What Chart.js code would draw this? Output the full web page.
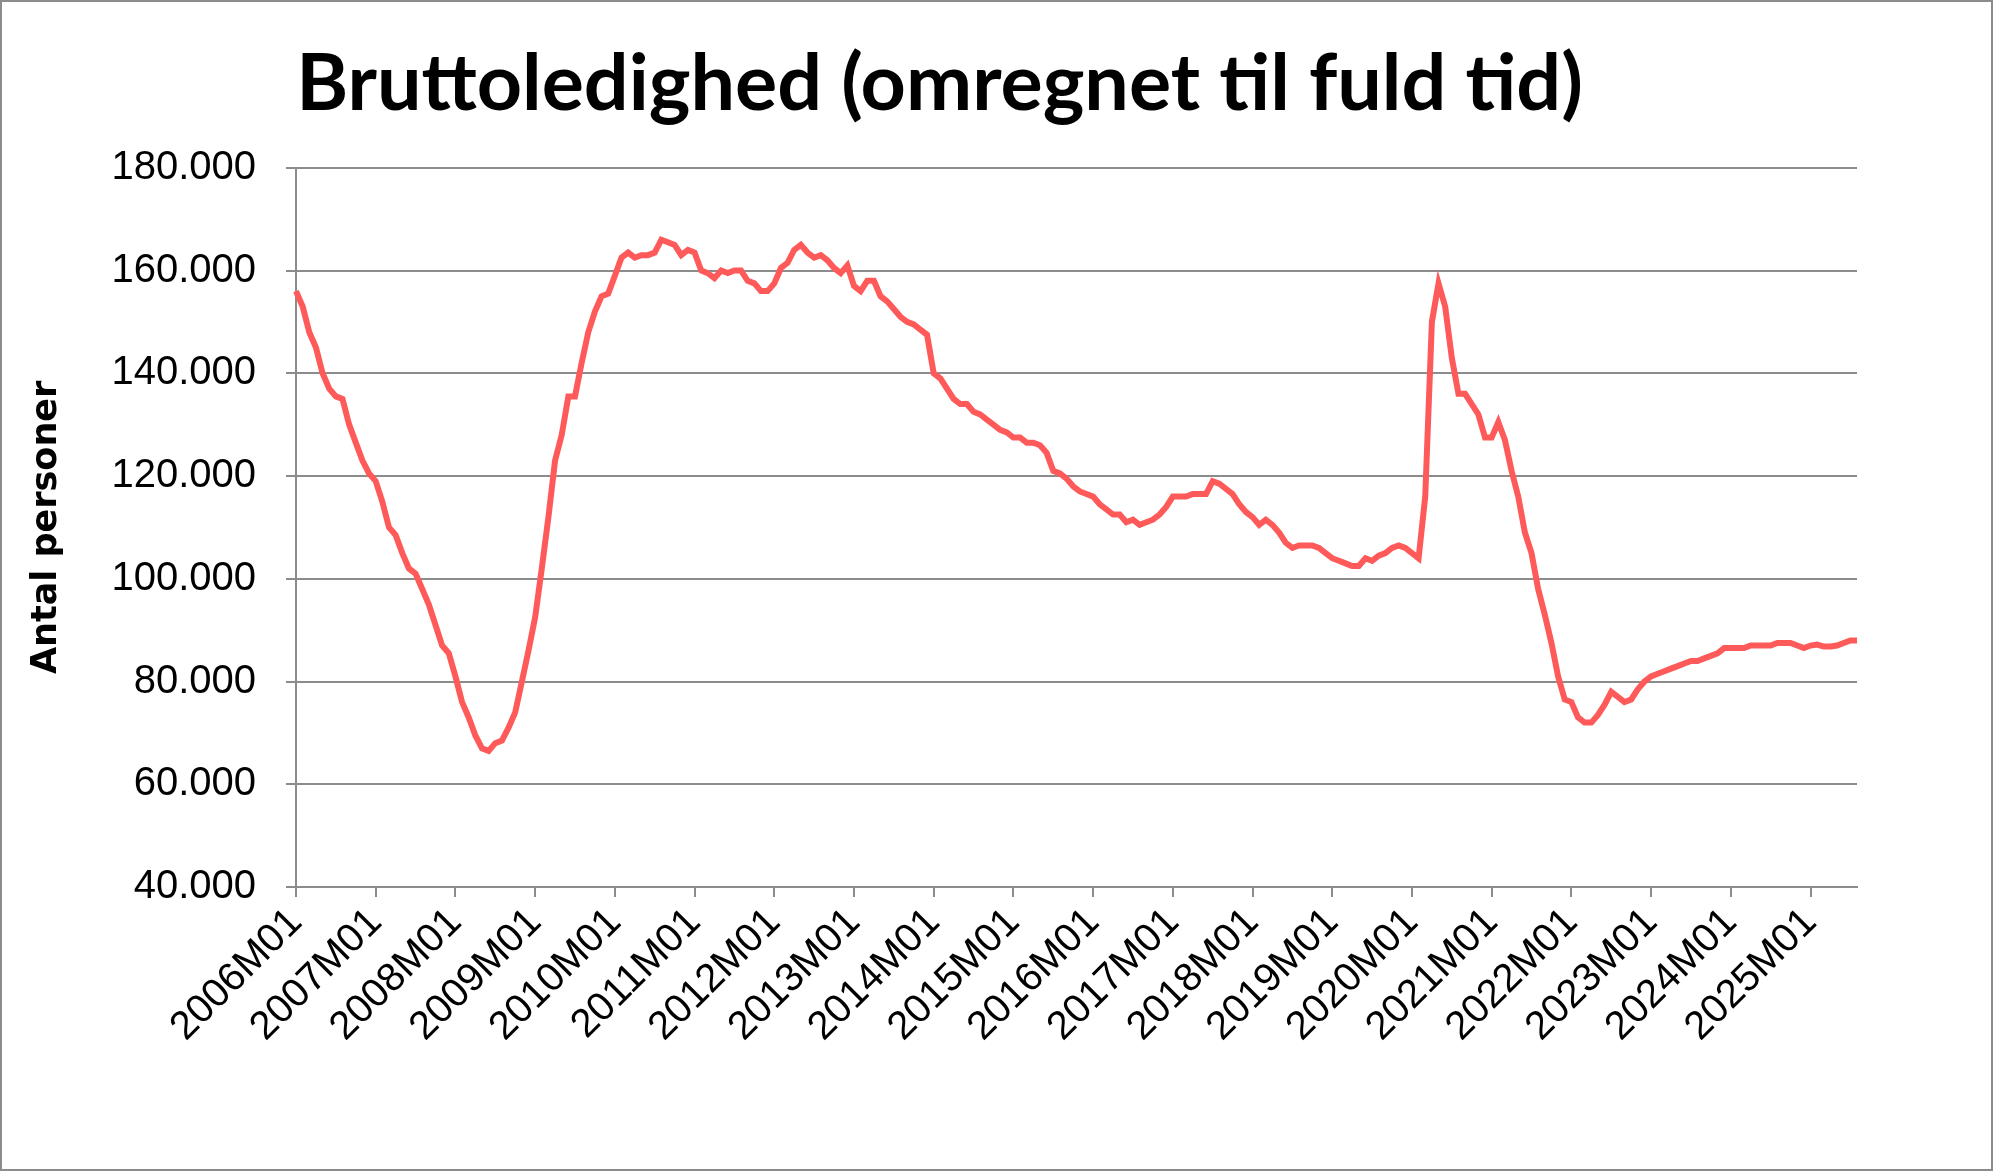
<!DOCTYPE html>
<html><head><meta charset="utf-8">
<script src="https://cdn.jsdelivr.net/npm/chart.js@4"></script>
<style>html,body{margin:0;padding:0;background:#fff}#w{width:1993px;height:1171px;box-sizing:border-box;border:2px solid #8c8c8c}</style>
</head><body><div id="w"><canvas id="c"></canvas></div>
<script>
const years = ['2006','2007','2008','2009','2010','2011','2012','2013','2014','2015','2016','2017','2018','2019','2020','2021','2022','2023','2024','2025'];
const v2006 = [156,153,148,145,140,137,135.5,135,130,126.5,123,120.5];
const v2007 = [119,115,110,108.5,105,102,101,98,95,91,87,85.5];
const v2008 = [81,76,73,69.5,67,66.5,68,68.5,71,74,80,86];
const v2009 = [92.5,102,112,123,128,135.5,135.5,142,148,152,155,155.5];
const v2010 = [159,162.5,163.5,162.5,163,163,163.5,166,165.5,165,163,164];
const v2011 = [163.5,160,159.5,158.5,160,159.5,160,160,158,157.5,156,156];
const v2012 = [157.5,160.5,161.5,164,165,163.5,162.5,163,162,160.5,159.5,161];
const v2013 = [157,156,158,158,155,154,152.5,151,150,149.5,148.5,147.5];
const v2014 = [140,139,137,135,134,134,132.5,132,131,130,129,128.5];
const v2015 = [127.5,127.5,126.5,126.5,126,124.5,121,120.5,119.5,118,117,116.5];
const v2016 = [116,114.5,113.5,112.5,112.5,111,111.5,110.5,111,111.5,112.5,114];
const v2017 = [116,116,116,116.5,116.5,116.5,119,118.5,117.5,116.5,114.5,113];
const v2018 = [112,110.5,111.5,110.5,109,107,106,106.5,106.5,106.5,106,105];
const v2019 = [104,103.5,103,102.5,102.5,104,103.5,104.5,105,106,106.5,106];
const v2020 = [105,104,116,150,157.5,153,143,136,136,134,132,127.5];
const v2021 = [127.5,130.5,127,121,116,109,105,98,93,87.5,81,76.5];
const v2022 = [76,73,72,72,73.5,75.5,78,77,76,76.5,78.5,80];
const v2023 = [81,81.5,82,82.5,83,83.5,84,84,84.5,85,85.5,86.5];
const v2024 = [86.5,86.5,86.5,87,87,87,87,87.5,87.5,87.5,87,86.5];
const v2025 = [87,87.2,86.8,86.8,87,87.5,88,88];
const seriesK = [].concat(v2006,v2007,v2008,v2009,v2010,v2011,v2012,v2013,v2014,v2015,v2016,v2017,v2018,v2019,v2020,v2021,v2022,v2023,v2024,v2025);
const labels = [];
years.forEach(y=>{for(let m=1;m<=12;m++){labels.push(y+'M'+String(m).padStart(2,'0'));}});
labels.length = seriesK.length;
const values = seriesK.map(v=>v*1000);
const fmt = v => String(Math.round(v)).replace(/\B(?=(\d{3})+(?!\d))/g,'.');
new Chart(document.getElementById('c'),{
 type:'line',
 data:{labels,datasets:[{data:values,borderColor:'#ff5a5a',borderWidth:6,pointRadius:0,tension:0,fill:false}]},
 options:{responsive:true,maintainAspectRatio:false,animation:false,
  layout:{padding:{left:20,right:134,bottom:10,top:0}},
  plugins:{legend:{display:false},tooltip:{enabled:false},
   title:{display:true,text:'Bruttoledighed (omregnet til fuld tid)',color:'#000',font:{family:'Lato',size:79,weight:'bold'},padding:{top:35,bottom:36}}},
  scales:{
   x:{offset:false,grid:{display:true,drawOnChartArea:false,drawTicks:true,tickLength:10,color:'#8c8c8c',lineWidth:c=>(c.index%12===0)?2:0},
      border:{color:'#8c8c8c',width:2},
      afterFit:s=>{s.height=272;},
      ticks:{autoSkip:false,maxRotation:45,minRotation:45,color:'#000',font:{family:'Liberation Sans',size:40},padding:2,
        callback:function(v,i){return i%12===0?labels[i]:'';}}},
   y:{min:40000,max:180000,grid:{color:'#8c8c8c',lineWidth:2,drawTicks:true,tickLength:10},border:{color:'#8c8c8c',width:2},
      afterFit:s=>{s.width=274;},
      ticks:{stepSize:20000,color:'#000',font:{family:'Liberation Sans',size:40},padding:30,callback:v=>fmt(v)},
      title:{display:true,text:'Antal personer',color:'#000',font:{family:'DejaVu Sans',size:35,weight:'bold'},padding:{bottom:0}}}
  }}
});
</script></body></html>
